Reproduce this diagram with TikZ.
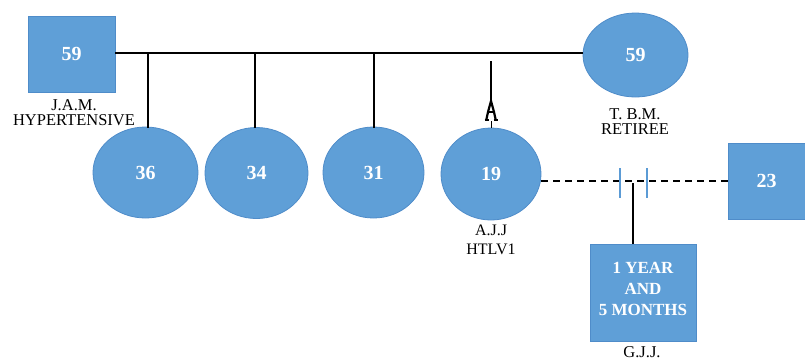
\documentclass[tikz,border=0pt]{standalone}
\usepackage{fontspec}
\setmainfont{Liberation Serif}
\usetikzlibrary{shapes.geometric}
\definecolor{pblue}{HTML}{5F9FD7}
\definecolor{pedge}{HTML}{4F8CC9}
\definecolor{tick}{HTML}{5B9BD5}
\begin{document}
\begin{tikzpicture}[x=1pt,y=-1pt,
  male/.style={rectangle,fill=pblue,draw=pedge,line width=0.8pt,inner sep=0pt,
    font=\bfseries\fontsize{20}{20}\selectfont,text=white},
  female/.style={ellipse,fill=pblue,draw=pedge,line width=0.8pt,inner sep=0pt,
    font=\bfseries\fontsize{20}{20}\selectfont,text=white},
  lbl/.style={align=center,font=\fontsize{16.5}{15}\selectfont,text=black,inner sep=0pt},
  link/.style={draw=black,line width=1.6pt},
  vlink/.style={draw=black,line width=1.3pt}]
\useasboundingbox (0,0) rectangle (805,360);
% parents
\node[male,minimum width=87pt,minimum height=76pt] (jam) at (71.5,54) {59};
\node[lbl] (jaml) at (74,112.5) {J.A.M.\\HYPERTENSIVE};
\node[female,minimum width=105pt,minimum height=84pt] (tbm) at (635.5,55) {59};
\node[lbl] (tbml) at (635,122) {T. B.M.\\RETIREE};
% children
\node[female,minimum width=105pt,minimum height=91pt] (c36) at (145.5,172.5) {36};
\node[female,minimum width=103pt,minimum height=91pt] (c34) at (256.5,173) {34};
\node[female,minimum width=101pt,minimum height=91pt] (c31) at (373.5,172.5) {31};
\node[female,minimum width=100pt,minimum height=92pt] (c19) at (491,174) {19};
\node[lbl,font=\fontsize{16}{19}\selectfont] (c19l) at (491,239.5) {A.J.J\\HTLV1};
% partner and grandchild
\node[male,minimum width=77pt,minimum height=76pt] (p23) at (766.5,181) {23};
\node[male,minimum width=106pt,minimum height=97pt] (gjj) at (643,292.5) {};
\node[font=\bfseries\fontsize{17}{21}\selectfont,align=center,text=white,inner sep=0pt]
  (gjjt) at ([yshift=3.5pt]gjj.center) {1 YEAR\hspace{0.8em}\\AND\\5 MONTHS};
\node[lbl] (gjjl) at (642,352.5) {G.J.J.};
% sibship line
\draw[link] (jam.east |- 0,53) -- (tbm.west |- 0,53);
\coordinate (a36) at (148,53);
\coordinate (a34) at (255,53);
\coordinate (a31) at (374,53);
\draw[vlink] (a36) -- (148,127.5);
\draw[vlink] (a34) -- (255,128);
\draw[vlink] (a31) -- (374,127.5);
% twin-like marker above 19
\coordinate (t19) at (491,61);
\draw[line width=2.4pt] (t19) -- (491,101);
\draw[line width=2.2pt,line join=miter] (486.5,119) -- (488,112) -- (491,101) -- (494,112) -- (495.5,119);
\draw[line width=1.8pt] (488,112) -- (494,112);
\draw[line width=1.6pt] (484.5,120) -- (488.5,120) (493.5,120) -- (497.5,120);
\draw[line width=1pt] (491,121) -- (c19.north);
% partnership line
\draw[link,line width=1.5pt,dash pattern=on 7pt off 5pt] (c19.east |- 0,181) -- (p23.west);
\draw[tick,line width=2.2pt] (620,168) -- (620,198) (647,168) -- (647,198);
\coordinate (pm) at (633,183);
\draw[vlink] (pm) -- (gjj.north -| pm);
\end{tikzpicture}
\end{document}
